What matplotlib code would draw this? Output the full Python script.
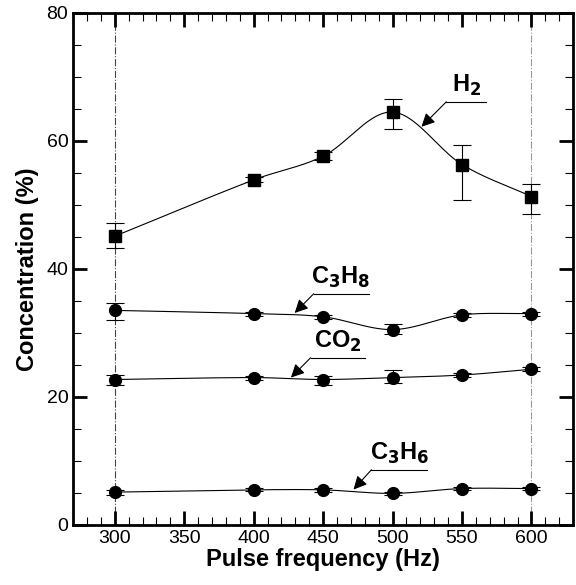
import numpy as np
import matplotlib
matplotlib.use('Agg')
import matplotlib.pyplot as plt
from matplotlib.ticker import MultipleLocator

plt.rcParams['font.family'] = ['Liberation Sans', 'DejaVu Sans']

freq = [300, 400, 450, 500, 550, 600]

h2 = [45.1, 53.9, 57.6, 64.5, 56.3, 51.3]
h2_lo = [43.3, 53.5, 57.0, 61.9, 50.8, 48.5]
h2_hi = [47.2, 54.3, 58.2, 66.5, 59.3, 53.3]

c3h8 = [33.5, 33.0, 32.5, 30.5, 32.8, 33.0]
c3h8_lo = [32.0, 32.7, 32.2, 29.8, 32.5, 32.7]
c3h8_hi = [34.7, 33.3, 32.8, 31.4, 33.1, 33.3]

co2 = [22.7, 23.0, 22.7, 23.0, 23.4, 24.3]
co2_lo = [21.8, 22.7, 21.8, 22.1, 23.1, 24.0]
co2_hi = [23.4, 23.3, 23.2, 24.2, 23.7, 24.6]

c3h6 = [5.1, 5.45, 5.45, 4.9, 5.66, 5.66]
c3h6_lo = [4.6, 5.2, 5.15, 4.7, 5.4, 5.4]
c3h6_hi = [5.5, 5.7, 5.75, 5.1, 5.9, 5.9]

# label, elbow (start of underline), underline end, arrow tip
labels = [
    ('H$_\\mathbf{2}$', (538.7, 66.1), 567.5, (520.8, 62.2)),
    ('C$_\\mathbf{3}$H$_\\mathbf{8}$', (443.2, 36.1), 482.7, (429.5, 33.1)),
    ('CO$_\\mathbf{2}$', (441.0, 26.1), 479.8, (426.8, 23.0)),
    ('C$_\\mathbf{3}$H$_\\mathbf{6}$', (484.8, 8.6), 525.0, (471.9, 5.5)),
]


def smooth_curve(x, y, xs):
    # hermite curve with centred-difference slopes
    x = np.asarray(x, float)
    y = np.asarray(y, float)
    n = len(x)
    m = np.zeros(n)
    m[0] = (y[1] - y[0]) / (x[1] - x[0])
    m[-1] = (y[-1] - y[-2]) / (x[-1] - x[-2])
    for i in range(1, n - 1):
        m[i] = (y[i + 1] - y[i - 1]) / (x[i + 1] - x[i - 1])
    out = np.empty_like(xs)
    for k, xv in enumerate(xs):
        i = int(np.clip(np.searchsorted(x, xv) - 1, 0, n - 2))
        h = x[i + 1] - x[i]
        t = (xv - x[i]) / h
        h00 = 2 * t ** 3 - 3 * t ** 2 + 1
        h10 = t ** 3 - 2 * t ** 2 + t
        h01 = -2 * t ** 3 + 3 * t ** 2
        h11 = t ** 3 - t ** 2
        out[k] = h00 * y[i] + h10 * h * m[i] + h01 * y[i + 1] + h11 * h * m[i + 1]
    return out


fig = plt.figure(figsize=(5.76, 5.85), dpi=100)
ax = fig.add_axes([0.127, 0.103, 0.868, 0.875])

ax.axvline(300, color='#444444', lw=0.8, ls='-.', zorder=1)
ax.axvline(600, color='#999999', lw=0.8, ls='-.', zorder=1)

xs = np.linspace(300, 600, 400)
series = [(h2, h2_lo, h2_hi, 's'), (c3h8, c3h8_lo, c3h8_hi, 'o'),
          (co2, co2_lo, co2_hi, 'o'), (c3h6, c3h6_lo, c3h6_hi, 'o')]
for vals, lo, hi, mk in series:
    vals = np.array(vals)
    err = [vals - np.array(lo), np.array(hi) - vals]
    ax.plot(xs, smooth_curve(freq, vals, xs), color='black', lw=0.8, zorder=2)
    ax.errorbar(freq, vals, yerr=err, fmt=mk, color='black', ms=8 if mk == 's' else 8.5,
                ecolor='black', elinewidth=0.8, capsize=6.5, capthick=0.8, zorder=3)

for txt, elbow, end, tip in labels:
    ax.annotate('', xy=tip, xytext=elbow,
                arrowprops=dict(arrowstyle='-|>', color='black', lw=0.8, mutation_scale=20,
                                shrinkA=0, shrinkB=0))
    ax.plot([elbow[0], end], [elbow[1], elbow[1]], color='black', lw=0.8)
    ax.text((elbow[0] + end) / 2, elbow[1] + 0.6, txt, ha='center', va='bottom',
            fontsize=17, fontweight='bold')

ax.set_xlim(270, 630)
ax.set_ylim(0, 80)
ax.xaxis.set_major_locator(MultipleLocator(50))
ax.xaxis.set_minor_locator(MultipleLocator(10))
ax.yaxis.set_major_locator(MultipleLocator(20))
ax.yaxis.set_minor_locator(MultipleLocator(5))
ax.tick_params(which='both', direction='in', top=True, right=True, labelsize=14)
ax.tick_params(which='major', length=10, width=2)
ax.tick_params(which='minor', length=6, width=0.8)
for s in ax.spines.values():
    s.set_linewidth(2)

ax.set_xlabel('Pulse frequency (Hz)', fontsize=17, fontweight='bold', labelpad=1)
ax.set_ylabel('Concentration (%)', fontsize=17, fontweight='bold', labelpad=5)

fig.savefig('out.png', dpi=100)
